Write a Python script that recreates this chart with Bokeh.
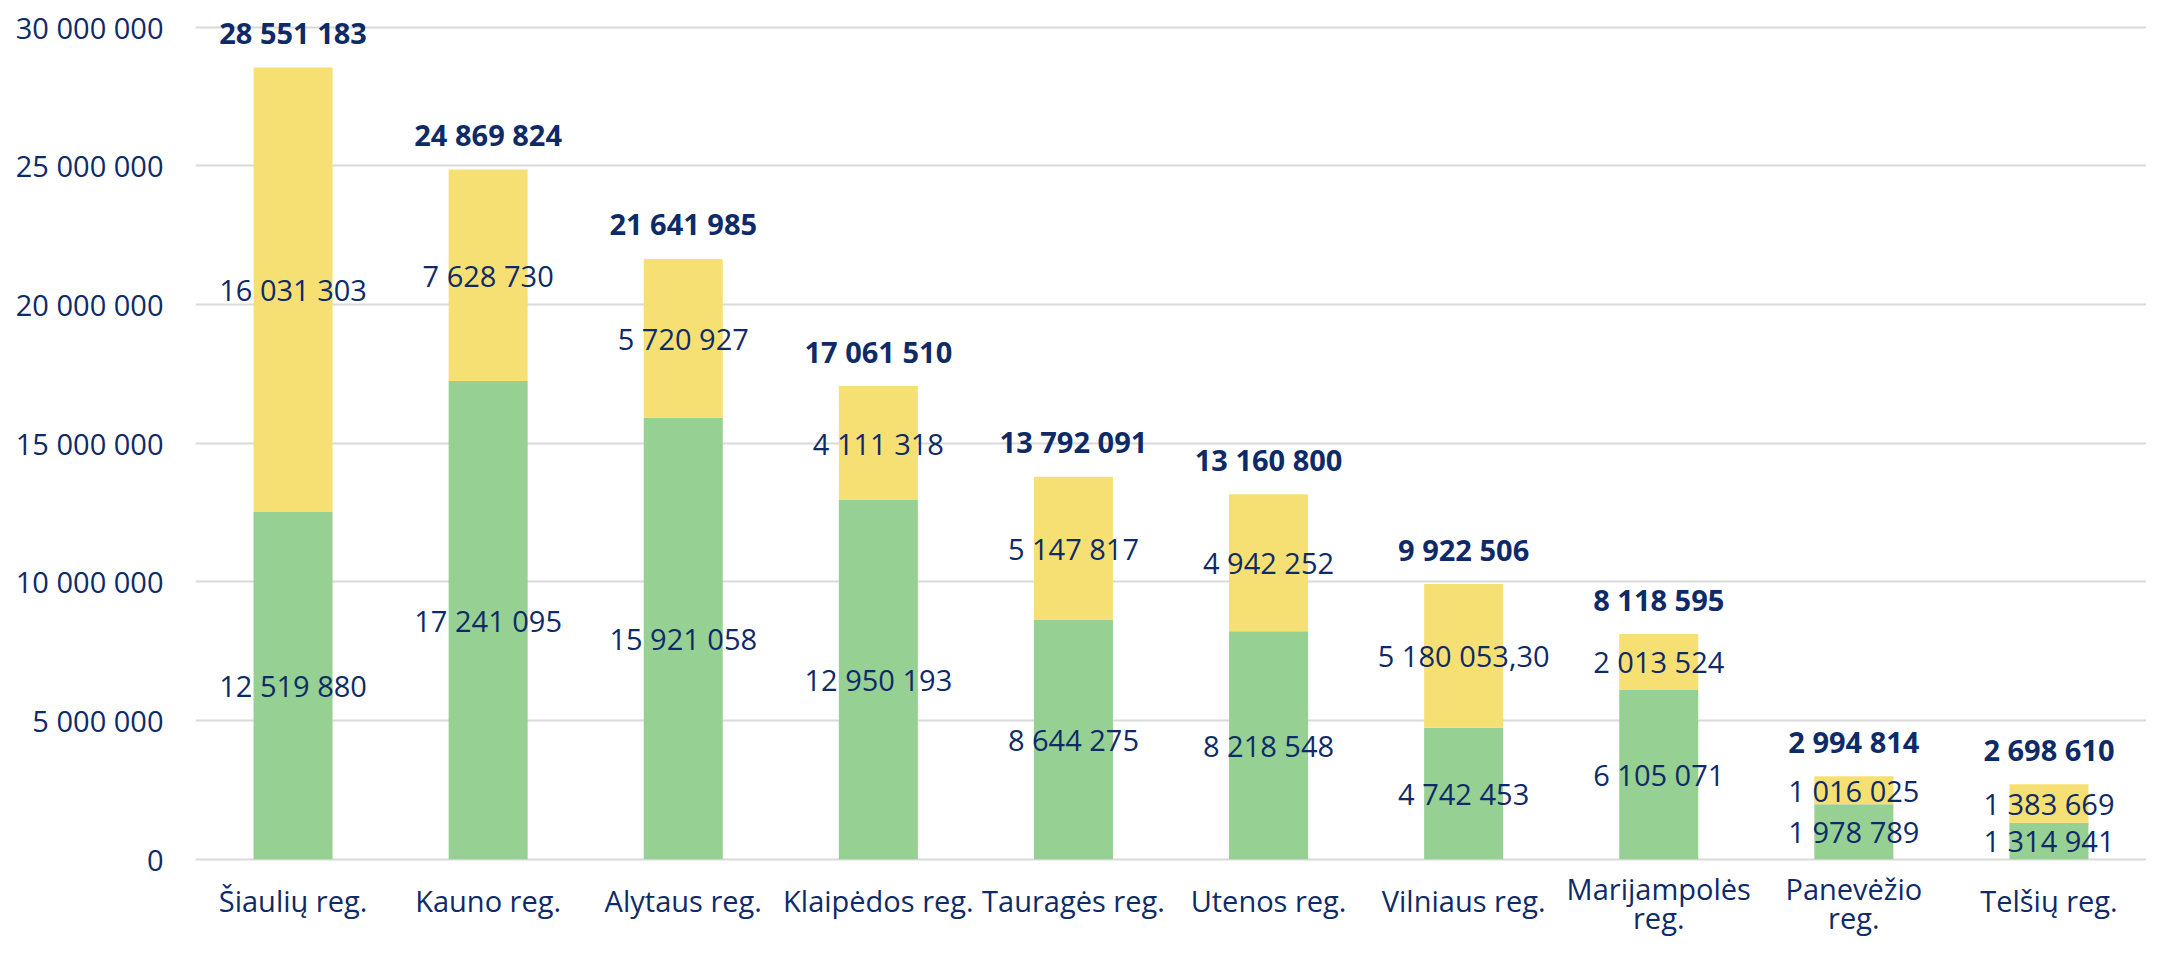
from bokeh.plotting import figure
from bokeh.models import ColumnDataSource, FactorRange, Range1d, FixedTicker
from bokeh.core.properties import value
from bokeh.embed import file_html
from bokeh.resources import INLINE

categories = ["Šiaulių reg.", "Kauno reg.", "Alytaus reg.", "Klaipėdos reg.", "Tauragės reg.",
              "Utenos reg.", "Vilniaus reg.", "Marijampolės\nreg.", "Panevėžio\nreg.", "Telšių reg."]
green_values = [12519880, 17241095, 15921058, 12950193, 8644275, 8218548, 4742453, 6105071, 1978789, 1314941]
yellow_values = [16031303, 7628730, 5720927, 4111318, 5147817, 4942252, 5180053.30, 2013524, 1016025, 1383669]
total_values = [28551183, 24869824, 21641985, 17061510, 13792091, 13160800, 9922506, 8118595, 2994814, 2698610]
y_ticks = [0, 5000000, 10000000, 15000000, 20000000, 25000000, 30000000]

NAVY = "#0E2B68"
GREEN = "#97D093"
YELLOW = "#F7E073"
FONT = "Open Sans"
FS = "29px"

W, H = 2146, 937
LEFT = 195
PX_PER_M = 832.0 / 30.0          # pixels per million
ZERO_Y = 858.7                   # pixel row of the zero line
Y_END = 30.0e6 + 26.7 / PX_PER_M * 1e6
Y_START = -(H - ZERO_Y) / PX_PER_M * 1e6


def fmt(v):
    if float(v).is_integer():
        return f"{int(v):,}".replace(",", " ")
    s = f"{v:,.2f}"
    ip, dp = s.split(".")
    return ip.replace(",", " ") + "," + dp


line1 = [c.split("\n")[0] for c in categories]
line2 = [c.split("\n")[1] if "\n" in c else "" for c in categories]
off1 = [29 if "\n" in c else 41 for c in categories]

src = ColumnDataSource(dict(
    cat=categories,
    green=green_values,
    yellow=yellow_values,
    total=total_values,
    gmid=[g / 2 for g in green_values],
    ymid=[g + y / 2 for g, y in zip(green_values, yellow_values)],
    gtop=[g + y for g, y in zip(green_values, yellow_values)],
    glab=[fmt(v) for v in green_values],
    ylab=[fmt(v) for v in yellow_values],
    tlab=[fmt(v) for v in total_values],
    zero=[0] * len(categories),
    l1=line1, l2=line2, off1=off1,
))

p = figure(x_range=FactorRange(*categories), y_range=Range1d(Y_START, Y_END),
           width=W, height=H, output_backend="svg", toolbar_location=None,
           min_border_left=LEFT, min_border_right=0, min_border_top=0, min_border_bottom=0)

p.vbar(x="cat", bottom=0, top="green", width=0.405, fill_color=GREEN, line_color=None, source=src)
p.vbar(x="cat", bottom="green", top="gtop", width=0.405, fill_color=YELLOW, line_color=None, source=src)

common = dict(source=src, text_align="center", text_baseline="middle",
              text_font=value(FONT), text_font_size=FS, text_color=NAVY)
p.text(x="cat", y="gmid", text="glab", **common)
p.text(x="cat", y="ymid", text="ylab", **common)
p.text(x="cat", y="total", text="tlab", y_offset=-35, text_font_style="bold", **common)

# category labels under the zero line
p.text(x="cat", y="zero", text="l1", y_offset="off1", **common)
p.text(x="cat", y="zero", text="l2", y_offset=58, **common)

p.outline_line_color = None
p.xgrid.grid_line_color = None
p.ygrid.grid_line_color = "#D9D9D9"
p.ygrid.grid_line_width = 2
p.xaxis.visible = False

p.yaxis.ticker = FixedTicker(ticks=y_ticks)
p.yaxis.major_label_overrides = {t: fmt(t) for t in y_ticks}
ax = p.yaxis[0]
ax.axis_line_color = None
ax.major_tick_line_color = None
ax.minor_tick_line_color = None
ax.major_tick_out = 0
ax.major_tick_in = 0
ax.major_label_text_font = FONT
ax.major_label_text_font_size = FS
ax.major_label_text_color = NAVY
ax.major_label_standoff = 32

open("out.html", "w").write(file_html(p, INLINE))
